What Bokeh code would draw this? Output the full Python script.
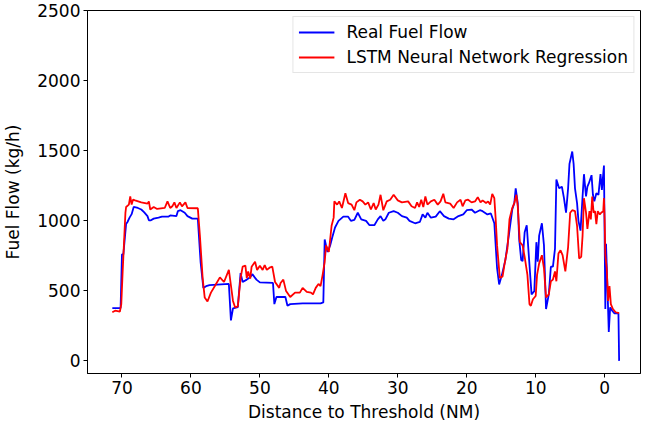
from bokeh.plotting import figure
from bokeh.models import Range1d, FixedTicker, Legend, LegendItem
from bokeh.embed import file_html
from bokeh.resources import INLINE

# Real Fuel Flow (blue): distance (NM) and fuel flow (kg/h)
real_dist = [71.4, 70.2, 70.0, 69.8, 69.4, 69.2, 68.9, 68.6, 68.3, 67.7, 67.2, 66.8, 66.3, 66.1,
             65.8, 65.4, 64.7, 64.2, 63.3, 63.0, 62.1, 61.9, 61.5, 60.9, 60.5, 59.8, 59.0, 58.6,
             58.2, 57.8, 57.3, 54.5, 54.2, 53.9, 53.2, 52.8, 52.5, 51.9, 51.4, 51.1, 50.5, 50.0,
             48.1, 47.9, 47.6, 46.3, 46.0, 45.6, 43.8, 41.2, 40.8, 40.6, 40.2, 39.8, 39.5, 39.1,
             38.6, 37.9, 37.2, 36.8, 36.3, 35.8, 35.3, 34.6, 34.1, 33.4, 32.9, 32.5, 32.1, 31.8,
             31.3, 30.6, 30.0, 29.4, 28.7, 28.3, 27.5, 26.8, 26.4, 26.0, 25.7, 25.2, 24.5, 23.9,
             23.3, 22.6, 21.9, 21.2, 20.5, 20.0, 19.3, 18.8, 18.1, 17.7, 17.0, 16.5, 16.0, 15.6,
             15.3, 14.9, 14.4, 13.9, 13.4, 13.1, 12.9, 12.6, 12.4, 12.1, 11.9, 11.6, 11.3, 11.1,
             10.6, 10.2, 9.9, 9.7, 9.5, 9.1, 8.8, 8.5, 8.1, 7.8, 7.5, 7.2, 7.0, 6.6, 6.2, 5.9,
             5.6, 5.3, 5.1, 4.7, 4.5, 4.3, 4.0, 3.8, 3.5, 3.2, 3.0, 2.7, 2.5, 2.3, 1.9, 1.7, 1.5,
             1.2, 0.9, 0.6, 0.4, 0.1, -0.1, -0.2, -0.4, -0.6, -0.8, -1.1, -1.4, -2.0, -2.1]
real_flow = [377, 377, 760, 760, 977, 991, 1022, 1047, 1098, 1091, 1080, 1061, 1033, 1003,
             1003, 1015, 1022, 1029, 1029, 1038, 1033, 1068, 1075, 1057, 1033, 1015, 1015, 707,
             521, 533, 541, 549, 289, 375, 384, 626, 563, 580, 596, 619, 580, 560,
             556, 405, 456, 456, 393, 405, 410, 410, 417, 866, 777, 824, 882, 952,
             999, 1029, 1029, 999, 1006, 1057, 1010, 999, 968, 968, 1010, 1033, 999, 1010,
             1057, 1068, 1057, 1033, 1022, 999, 982, 991, 1045, 1022, 1057, 1022, 1029, 1068,
             1033, 1015, 1010, 1033, 1045, 1075, 1080, 1057, 1075, 1068, 1045, 1052, 982, 661,
             545, 614, 719, 894, 1080, 1126, 1231, 1126, 871, 719, 712, 917, 968, 824,
             475, 498, 847, 707, 894, 982, 824, 370, 475, 672, 672, 801, 1294, 1231, 1243, 1161,
             1057, 1231, 1406, 1494, 1406, 1231, 1126, 999, 929, 1173, 1332, 1173, 1243, 1266, 1325, 1185, 1138,
             1196, 1185, 1332, 1220, 1394, 370, 836, 533, 207, 382, 358, 340, 340, 0]

# LSTM Neural Network Regression (red)
lstm_dist = [71.4, 71.0, 70.3, 70.1, 69.9, 69.5, 69.4, 69.0, 68.8, 68.6, 68.4, 68.1, 67.2, 66.3,
             66.1, 65.9, 65.4, 64.9, 63.8, 63.4, 63.0, 62.7, 62.4, 62.1, 61.6, 61.3, 60.8, 60.5,
             59.0, 58.7, 58.3, 58.0, 57.6, 57.1, 56.4, 55.8, 55.2, 54.5, 53.9, 53.6, 53.2, 52.8,
             52.5, 52.1, 51.9, 51.7, 51.4, 51.2, 50.7, 50.4, 50.0, 49.6, 49.3, 49.0, 48.6, 48.2,
             47.8, 47.2, 47.0, 46.6, 46.2, 45.6, 44.9, 44.2, 43.8, 43.2, 42.6, 42.3, 41.9, 41.5,
             41.2, 40.9, 40.6, 40.4, 40.0, 39.6, 39.3, 39.2, 38.8, 38.5, 38.1, 37.6, 37.2, 36.7,
             36.3, 36.0, 35.5, 35.1, 34.7, 34.3, 33.9, 33.5, 33.2, 32.8, 32.5, 32.1, 31.6, 31.1,
             30.6, 30.0, 29.4, 28.5, 28.0, 27.5, 27.2, 26.9, 26.6, 26.3, 26.0, 25.7, 25.2, 24.7,
             24.2, 23.8, 23.4, 23.1, 22.4, 21.9, 21.4, 20.9, 20.6, 20.2, 19.8, 19.3, 18.8, 18.4,
             18.0, 17.7, 17.2, 16.9, 16.6, 16.3, 16.0, 15.8, 15.6, 15.2, 14.8, 14.5, 14.1, 13.8,
             13.4, 13.1, 12.8, 12.6, 12.3, 11.9, 11.6, 11.2, 10.9, 10.7, 10.4, 10.0, 9.8, 9.5,
             9.1, 8.8, 8.5, 8.1, 7.8, 7.5, 7.2, 7.0, 6.7, 6.4, 6.1, 5.7, 5.3, 5.0, 4.7, 4.3,
             4.0, 3.7, 3.4, 3.2, 3.0, 2.7, 2.5, 2.2, 2.0, 1.8, 1.6, 1.4, 1.2, 1.0, 0.7, 0.5,
             0.2, 0.1, 0.0, -0.1, -0.3, -0.5, -0.7, -0.9, -1.2, -1.6, -2.1]
lstm_flow = [347, 358, 351, 405, 638, 1057, 1098, 1115, 1173, 1115, 1150, 1145, 1131, 1122,
             1138, 1080, 1098, 1084, 1091, 1138, 1091, 1103, 1131, 1091, 1131, 1103, 1131, 1091,
             1089, 894, 591, 452, 424, 487, 545, 596, 563, 649, 428, 382, 389, 591,
             672, 679, 591, 638, 587, 672, 707, 649, 679, 649, 684, 649, 665, 672,
             563, 521, 556, 580, 498, 456, 487, 487, 521, 493, 487, 475, 521, 549,
             533, 614, 707, 824, 777, 964, 1022, 1138, 1115, 1138, 1091, 1196, 1126, 1115,
             1075, 1131, 1150, 1138, 1115, 1131, 1080, 1126, 1080, 1115, 1185, 1075, 1138, 1150,
             1185, 1145, 1131, 1138, 1103, 1091, 1131, 1098, 1150, 1098, 1173, 1115, 1138, 1150,
             1115, 1138, 1192, 1131, 1122, 1091, 1131, 1150, 1103, 1145, 1150, 1131, 1138, 1168,
             1131, 1145, 1126, 1138, 1115, 1192, 1161, 1010, 824, 591, 603, 696, 801, 1010,
             1091, 1126, 1185, 1103, 847, 824, 742, 614, 405, 393, 440, 463, 614, 696,
             754, 661, 452, 475, 568, 580, 638, 568, 766, 789, 754, 638, 812, 1057, 1075, 1068,
             964, 731, 742, 894, 1161, 1057, 941, 1068, 1010, 1173, 1057, 1068, 975, 1068, 1045, 1057,
             1068, 1161, 1010, 754, 661, 428, 533, 405, 370, 347, 340]

x_ticks = [0, 10, 20, 30, 40, 50, 60, 70]
y_ticks = [0, 500, 1000, 1500, 2000, 2500]

FONT = "DejaVu Sans"
FS = "17px"

p = figure(width=641, height=424, output_backend="svg", toolbar_location=None,
           x_range=Range1d(75, -5.2), y_range=Range1d(-90, 2500),
           min_border_left=81, min_border_right=1, min_border_top=10, min_border_bottom=10)

r1 = p.line(real_dist, real_flow, line_color="#0000ff", line_width=1.8)
r2 = p.line(lstm_dist, lstm_flow, line_color="#ff0000", line_width=1.8)

p.xgrid.visible = False
p.ygrid.visible = False
p.outline_line_color = "black"
p.outline_line_width = 1
p.outline_line_alpha = 1

p.xaxis.ticker = FixedTicker(ticks=x_ticks)
p.yaxis.ticker = FixedTicker(ticks=y_ticks)
for ax in (p.xaxis[0], p.yaxis[0]):
    ax.minor_tick_line_color = None
    ax.major_tick_in = 0
    ax.major_tick_out = 4
    ax.major_tick_line_color = "black"
    ax.axis_line_color = "black"
    ax.major_label_text_font = FONT
    ax.major_label_text_font_size = FS
    ax.major_label_text_color = "black"
    ax.axis_label_text_font = FONT
    ax.axis_label_text_font_size = FS
    ax.axis_label_text_font_style = "normal"
    ax.axis_label_text_color = "black"
    ax.major_label_standoff = 3

p.xaxis.axis_label = "Distance to Threshold (NM)"
p.yaxis.axis_label = "Fuel Flow (kg/h)"
p.xaxis.axis_label_standoff = 5
p.yaxis.axis_label_standoff = 11

legend = Legend(items=[LegendItem(label="Real Fuel Flow", renderers=[r1]),
                       LegendItem(label="LSTM Neural Network Regression", renderers=[r2])],
                location="top_right", margin=6, padding=5, spacing=5,
                glyph_width=36, glyph_height=20, label_height=20, label_standoff=12,
                label_text_font=FONT, label_text_font_size=FS, label_text_color="black",
                border_line_color="#cccccc", border_line_width=1, background_fill_alpha=0.8)
p.add_layout(legend)

open("out.html", "w").write(file_html(p, INLINE))
